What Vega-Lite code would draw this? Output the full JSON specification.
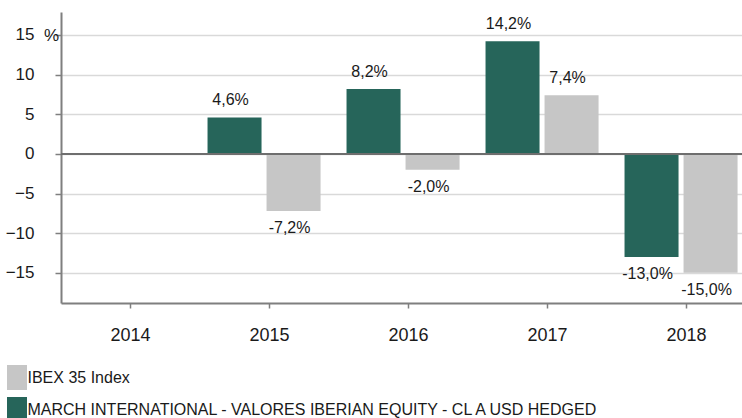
{
  "$schema": "https://vega.github.io/schema/vega-lite/v6.json",
  "width": 695,
  "height": 291,
  "autosize": {"type": "none"},
  "padding": {"left": 61, "top": 12, "right": 0, "bottom": 115},
  "background": "white",
  "config": {"view": {"stroke": null}, "font": "Liberation Sans"},
  "data": {
    "values": [
      {"year": "2015", "series": "MARCH INTERNATIONAL - VALORES IBERIAN EQUITY - CL A USD HEDGED", "value": 4.6, "label": "4,6%"},
      {"year": "2015", "series": "IBEX 35 Index", "value": -7.2, "label": "-7,2%"},
      {"year": "2016", "series": "MARCH INTERNATIONAL - VALORES IBERIAN EQUITY - CL A USD HEDGED", "value": 8.2, "label": "8,2%"},
      {"year": "2016", "series": "IBEX 35 Index", "value": -2.0, "label": "-2,0%"},
      {"year": "2017", "series": "MARCH INTERNATIONAL - VALORES IBERIAN EQUITY - CL A USD HEDGED", "value": 14.2, "label": "14,2%"},
      {"year": "2017", "series": "IBEX 35 Index", "value": 7.4, "label": "7,4%"},
      {"year": "2018", "series": "MARCH INTERNATIONAL - VALORES IBERIAN EQUITY - CL A USD HEDGED", "value": -13.0, "label": "-13,0%"},
      {"year": "2018", "series": "IBEX 35 Index", "value": -15.0, "label": "-15,0%"}
    ]
  },
  "encoding": {
    "x": {
      "field": "year",
      "type": "nominal",
      "scale": {"domain": ["2014", "2015", "2016", "2017", "2018"], "paddingInner": 0, "paddingOuter": 0},
      "axis": {
        "title": null,
        "labelAngle": 0,
        "labelFontSize": 18,
        "labelColor": "#1a1a1a",
        "labelPadding": 18,
        "domainColor": "#7f7f7f",
        "domainWidth": 2,
        "tickColor": "#7f7f7f",
        "tickSize": 5,
        "tickWidth": 1.5,
        "grid": false
      }
    },
    "xOffset": {
      "field": "series",
      "type": "nominal",
      "sort": ["MARCH INTERNATIONAL - VALORES IBERIAN EQUITY - CL A USD HEDGED", "IBEX 35 Index"],
      "scale": {"paddingInner": 0.085, "paddingOuter": 0.22, "align": 0.29}
    }
  },
  "layer": [
    {
      "mark": {"type": "bar"},
      "encoding": {
        "y": {
          "field": "value",
          "type": "quantitative",
          "scale": {"domain": [-18.8, 17.9], "nice": false, "zero": false},
          "axis": {
            "values": [-15, -10, -5, 0, 5, 10, 15],
            "title": "%",
            "titleAngle": 0,
            "titleX": -10,
            "titleY": 23,
            "titleAlign": "center",
            "titleBaseline": "middle",
            "titleFontSize": 17,
            "titleFontWeight": "normal",
            "titleColor": "#1a1a1a",
            "labelFontSize": 17,
            "labelColor": "#1a1a1a",
            "labelPadding": 21,
            "domainColor": "#7f7f7f",
            "domainWidth": 2,
            "tickColor": "#7f7f7f",
            "tickSize": 6,
            "tickWidth": 1.5,
            "grid": true,
            "gridColor": "#d9d9d9",
            "gridWidth": 1.5
          }
        },
        "color": {
          "field": "series",
          "type": "nominal",
          "scale": {
            "domain": ["IBEX 35 Index", "MARCH INTERNATIONAL - VALORES IBERIAN EQUITY - CL A USD HEDGED"],
            "range": ["#c6c6c6", "#26655a"]
          },
          "legend": {
            "title": null,
            "orient": "none",
            "legendX": -56.5,
            "legendY": 353,
            "direction": "vertical",
            "symbolType": "M-0.8,-1H0.8V1H-0.8Z",
            "symbolSize": 625,
            "symbolStrokeWidth": 0,
            "symbolOpacity": 1,
            "labelFontSize": 16,
            "labelColor": "#1a1a1a",
            "labelOffset": -2,
            "labelLimit": 800,
            "rowPadding": 7
          }
        }
      }
    },
    {
      "transform": [{"filter": "datum.value > 0"}],
      "mark": {"type": "text", "baseline": "alphabetic", "dy": -12, "dx": -4, "fontSize": 16, "color": "#1a1a1a"},
      "encoding": {
        "y": {"field": "value", "type": "quantitative"},
        "text": {"field": "label"}
      }
    },
    {
      "transform": [{"filter": "datum.value < 0"}],
      "mark": {"type": "text", "baseline": "top", "dy": 9, "dx": -4, "fontSize": 16, "color": "#1a1a1a"},
      "encoding": {
        "y": {"field": "value", "type": "quantitative"},
        "text": {"field": "label"}
      }
    },
    {
      "mark": {"type": "rule", "color": "#6e6e6e", "strokeWidth": 2},
      "encoding": {
        "y": {"datum": 0},
        "x": {"value": 0},
        "x2": {"value": 695},
        "xOffset": null
      }
    }
  ]
}
